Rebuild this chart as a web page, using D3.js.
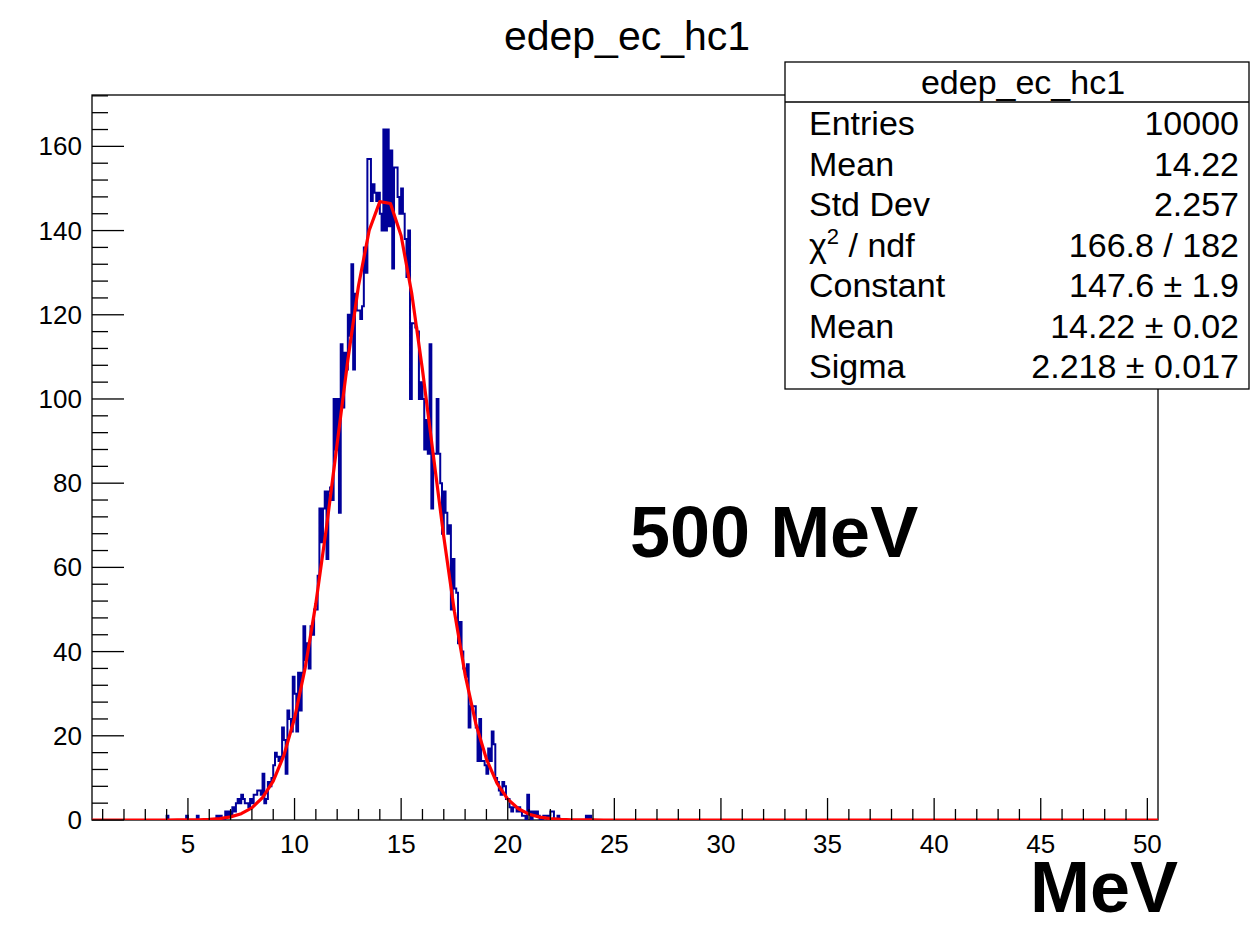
<!DOCTYPE html>
<html>
<head>
<meta charset="utf-8">
<script src="https://cdn.jsdelivr.net/npm/d3@7"></script>
<style>
  html, body { margin: 0; padding: 0; background: #ffffff; }
  svg { display: block; }
  text { font-family: "Liberation Sans", Arial, Helvetica, sans-serif; fill: #000; }
</style>
</head>
<body>
<svg id="chart" width="1250" height="926"></svg>
<script>
// ---------------- data ----------------
const histTitle = "edep_ec_hc1";
const xRange = [0.5, 50.5];          // histogram axis range (MeV)
const nBins = 600;                   // bins over the range
const yMax = 172.2;                  // displayed y maximum
const firstBin = 40;                 // index of the first listed bin
// bin contents for bins 40..285 (all other bins are empty)
const counts = [
  0,0,1,0,0,0,0,0,0,0,0,0,0,1,0,0,0,0,0,1,
  0,0,0,0,0,0,0,0,0,0,1,0,1,0,0,2,1,2,1,3,
  2,4,5,4,6,5,4,4,3,5,
  4,6,6,7,7,6,11,4,5,9,8,10,
  13,16,15,14,15,22,19,11,26,24,21,34,
  30,21,35,26,35,46,38,42,36,46,44,50,
  50,58,74,66,74,78,62,78,79,76,100,88,
  100,73,113,98,111,107,120,115,132,107,125,121,
  121,119,122,136,130,157,157,147,151,149,147,149,
  144,140,164,140,164,141,159,131,155,155,148,144,
  150,144,138,129,140,100,118,118,117,116,100,104,
  100,88,95,87,113,74,87,87,100,87,80,68,
  78,73,68,70,50,62,55,54,42,47,40,36,
  34,37,22,27,27,27,22,14,24,14,14,13,
  11,17,14,21,18,10,9,7,6,9,8,5,
  5,3,2,3,3,2,3,2,1,1,0,6,
  2,0,2,1,2,1,0,0,1,1,0,1,
  2,2,0,0,1,0,0,0,0,0,0,0,
  0,0,0,0,0,0,0,0,1,0,1,0,0,0,0,0
];
// Gaussian fit parameters: Constant, Mean, Sigma
const fitParams = [147.6, 14.22, 2.218];
const fitPoints = 100;

const xMajorTicks = [5,10,15,20,25,30,35,40,45,50];
const yMajorTicks = [0,20,40,60,80,100,120,140,160];

const statsHeader = "edep_ec_hc1";
const statsLabels = ["Entries", "Mean", "Std Dev", "χ2 / ndf", "Constant", "Mean", "Sigma"];
const statsValues = ["10000", "14.22", "2.257", "166.8 / 182", "147.6 ± 1.9", "14.22 ± 0.02", "2.218 ± 0.017"];

const energyLabel = "500 MeV";
const axisUnit = "MeV";

// ---------------- layout ----------------
const svg = d3.select("#chart");
const frame = { left: 92, right: 1158, top: 95, bottom: 820 };

const x = d3.scaleLinear().domain(xRange).range([frame.left, frame.right]);
const y = d3.scaleLinear().domain([0, yMax]).range([frame.bottom, frame.top]);

const binW = (xRange[1] - xRange[0]) / nBins;
const allCounts = d3.range(nBins).map(i => {
  const j = i - firstBin;
  return (j >= 0 && j < counts.length) ? counts[j] : 0;
});

// frame
svg.append("rect")
  .attr("x", frame.left).attr("y", frame.top)
  .attr("width", frame.right - frame.left).attr("height", frame.bottom - frame.top)
  .attr("fill", "none").attr("stroke", "#000").attr("stroke-width", 1.3);

svg.append("clipPath").attr("id", "clipf").append("rect")
  .attr("x", frame.left).attr("y", frame.top - 2)
  .attr("width", frame.right - frame.left).attr("height", frame.bottom - frame.top + 2);

// histogram step outline
let pts = [];
allCounts.forEach((c, i) => {
  const x0 = xRange[0] + i * binW, x1 = x0 + binW;
  pts.push([x0, c]); pts.push([x1, c]);
});
const stepLine = d3.line().x(d => x(d[0])).y(d => y(d[1]));
svg.append("path")
  .attr("d", stepLine(pts))
  .attr("fill", "none").attr("stroke", "#000099").attr("stroke-width", 2)
  .attr("clip-path", "url(#clipf)");

// fit curve
const [A, mu, sg] = fitParams;
const fitData = d3.range(fitPoints + 1).map(i => {
  const xv = xRange[0] + i * (xRange[1] - xRange[0]) / fitPoints;
  return [xv, A * Math.exp(-0.5 * Math.pow((xv - mu) / sg, 2))];
});
svg.append("path")
  .attr("d", d3.line().x(d => x(d[0])).y(d => y(d[1]))(fitData))
  .attr("fill", "none").attr("stroke", "#ff0000").attr("stroke-width", 3.2)
  .attr("stroke-linejoin", "round")
  .attr("clip-path", "url(#clipf)");

// x axis ticks
const xMinor = d3.range(1, 51);
const gx = svg.append("g");
gx.selectAll("line").data(xMinor).join("line")
  .attr("x1", d => x(d)).attr("x2", d => x(d))
  .attr("y1", frame.bottom).attr("y2", d => frame.bottom - (d % 5 === 0 ? 22 : 11))
  .attr("stroke", "#000").attr("stroke-width", 1.3);
gx.selectAll("text").data(xMajorTicks).join("text")
  .attr("x", d => x(d)).attr("y", 853)
  .attr("text-anchor", "middle").attr("font-size", 26)
  .text(d => d);

// y axis ticks
const yMinor = d3.range(0, 173, 4);
const gy = svg.append("g");
gy.selectAll("line").data(yMinor).join("line")
  .attr("x1", frame.left).attr("x2", d => frame.left + (d % 20 === 0 ? 32 : 16))
  .attr("y1", d => y(d)).attr("y2", d => y(d))
  .attr("stroke", "#000").attr("stroke-width", 1.3);
gy.selectAll("text").data(yMajorTicks).join("text")
  .attr("x", 82).attr("y", d => y(d) + 9)
  .attr("text-anchor", "end").attr("font-size", 26)
  .text(d => d);

// title
svg.append("text").attr("x", 627).attr("y", 50)
  .attr("text-anchor", "middle").attr("font-size", 41).text(histTitle);

// stats box
const sb = { left: 785, top: 62, right: 1249, bottom: 389, headerBottom: 102 };
svg.append("rect")
  .attr("x", sb.left).attr("y", sb.top)
  .attr("width", sb.right - sb.left).attr("height", sb.bottom - sb.top)
  .attr("fill", "#fff").attr("stroke", "#000").attr("stroke-width", 1.3);
svg.append("line")
  .attr("x1", sb.left).attr("x2", sb.right)
  .attr("y1", sb.headerBottom).attr("y2", sb.headerBottom)
  .attr("stroke", "#000").attr("stroke-width", 1.3);
svg.append("text").attr("x", 1023).attr("y", 94)
  .attr("text-anchor", "middle").attr("font-size", 34).text(statsHeader);
statsLabels.forEach((lab, i) => {
  const t = svg.append("text").attr("x", 809).attr("y", 135 + i * 40.5).attr("font-size", 34);
  if (lab.startsWith("χ2")) {
    t.append("tspan").text("χ");
    t.append("tspan").attr("dy", -13).attr("font-size", 22).text("2");
    t.append("tspan").attr("dy", 13).text(" / ndf");
  } else {
    t.text(lab);
  }
  svg.append("text").attr("x", 1239).attr("y", 135 + i * 40.5)
    .attr("text-anchor", "end").attr("font-size", 34).text(statsValues[i]);
});

// annotations
svg.append("text").attr("x", 630).attr("y", 557)
  .attr("font-size", 72).attr("font-weight", "bold").text(energyLabel);
svg.append("text").attr("x", 1178).attr("y", 912)
  .attr("text-anchor", "end").attr("font-size", 72).attr("font-weight", "bold").text(axisUnit);
</script>
</body>
</html>
